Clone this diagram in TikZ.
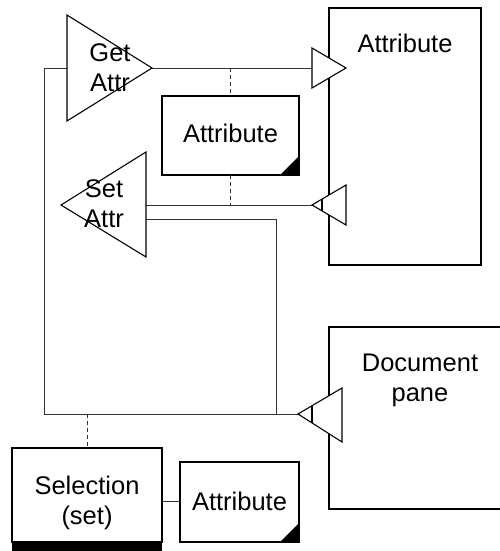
\documentclass[tikz,border=0pt]{standalone}
\usepackage{fontspec}
\setmainfont{Liberation Sans}
\begin{document}
\begin{tikzpicture}[x=1pt,y=-1pt,
  box/.style={draw=black,line width=2pt,inner sep=0pt,outer sep=0pt,anchor=north west},
  plainbox/.style={inner sep=0pt,outer sep=0pt,anchor=north west},
  port/.style={draw=black,fill=white,line width=1.1pt,line join=miter},
  wire/.style={draw=black!80,line width=1pt},
  ref/.style={draw=black!80,line width=1pt,dash pattern=on 4pt off 3pt},
  lbl/.style={inner sep=0pt,outer sep=0pt,font=\fontsize{25.5}{30}\selectfont,align=center},
  corner/.style={fill=black}
]
\useasboundingbox (0,0) rectangle (499,551);

% boxes
\node[box,minimum width=152pt,minimum height=257pt] (attrbig) at (329,8) {};
\node[box,minimum width=137pt,minimum height=79pt] (attrmid) at (162,96) {};
\node[box,minimum width=150pt,minimum height=94pt] (selbox) at (12,448) {};
\node[box,minimum width=119pt,minimum height=80pt] (attrsel) at (180,462) {};
\node[plainbox,minimum width=175pt,minimum height=182pt] (docpane) at (329,327) {};
\draw[line width=2pt] (docpane.north east) -- (docpane.north west) -- (docpane.south west) -- (docpane.south east);

% selection bar and folded corners
\fill (selbox.south west) rectangle ++(150,9);
\fill[corner] (attrmid.south east) -- ++(-19,0) -- ++(19,-19) -- cycle;
\fill[corner] (attrsel.south east) -- ++(-19,0) -- ++(19,-19) -- cycle;

% texts
\node[lbl,anchor=base] (attrbigtxt) at (405,52.7) {Attribute};
\node[lbl,anchor=base] (attrmidtxt) at (230.5,142.7) {Attribute};
\node[lbl,anchor=base] (attrseltxt) at (239.5,510) {Attribute};
\node[lbl] (seltxt) at (87,502.5) {Selection\\(set)};
\node[lbl] (doctxt) at (420,380.5) {Document\\pane};

% named points of the ports
\coordinate (getL) at (67,68);
\coordinate (getR) at (152,68);
\coordinate (inA) at (312,68);
\coordinate (setR1) at (146,205);
\coordinate (setR2) at (146,219);
\coordinate (outA) at (312,205);
\coordinate (outD) at (298,414);
\coordinate (bendL) at (44,68);
\coordinate (bendB) at (44,414);
\coordinate (bendS) at (276,219);
\coordinate (joinS) at (276,414);
\coordinate (refB) at (87,414);
\coordinate (refS) at (230,68);
\coordinate (refT) at (230,205);

% connectors
\draw[wire] (getR) -- (inA);
\draw[wire] (getL) -- (bendL) -- (bendB) -- (outD);
\draw[wire] (setR1) -- (outA);
\draw[wire] (setR2) -- (bendS) -- (joinS);
\draw[wire] (selbox.east |- 0,501) -- (attrsel.west |- 0,501);
\draw[ref] (refS) -- (attrmid.north -| refS);
\draw[ref] (attrmid.south -| refT) -- (refT);
\draw[ref] (refB) -- (selbox.north -| refB);

% ports
\draw[port] (67,15) -- (152,68) -- (67,121) -- cycle;
\draw[port] (146,152) -- (61,205) -- (146,257) -- cycle;
\draw[port] (312,48) -- (346,68) -- (312,88) -- cycle;
\draw[port] (346,185) -- (312,205) -- (346,225) -- cycle;
\draw[line width=1.1pt] (322,199.1) -- (322,210.9);
\draw[port] (342,388) -- (298,414) -- (342,442) -- cycle;
\draw[line width=1.1pt] (312,405.6) -- (312,422.6);

% port labels sit over the triangles
\node[lbl] (gettxt) at (110,67.5) {Get\\Attr};
\node[lbl] (settxt) at (104,204) {Set\\Attr};
\end{tikzpicture}
\end{document}
